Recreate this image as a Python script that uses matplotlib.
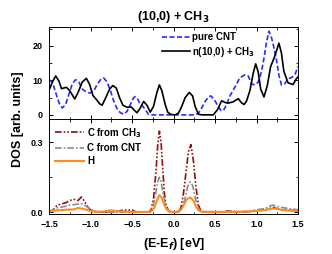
import matplotlib
matplotlib.use("Agg")
import matplotlib.pyplot as plt
from matplotlib.ticker import MultipleLocator

plt.rcParams['font.family'] = ['Liberation Sans', 'DejaVu Sans']
plt.rcParams['font.weight'] = 'bold'

# Top panel: total DOS, pure CNT vs. functionalised tube
e_pure = [-1.50, -1.46, -1.42, -1.38, -1.34, -1.30, -1.26, -1.22, -1.18, -1.14,
          -1.10, -1.06, -1.01, -0.96, -0.92, -0.88, -0.84, -0.80, -0.76, -0.72,
          -0.68, -0.64, -0.60, -0.56, -0.52, -0.48, -0.46, -0.43, -0.40, -0.37,
          -0.34, -0.30, -0.26, 0.26, 0.30, 0.34, 0.38, 0.42, 0.45, 0.49,
          0.53, 0.57, 0.60, 0.64, 0.68, 0.72, 0.76, 0.80, 0.86, 0.90,
          0.94, 0.98, 1.02, 1.06, 1.09, 1.12, 1.15, 1.18, 1.21, 1.24,
          1.27, 1.30, 1.34, 1.38, 1.42, 1.46, 1.50]
dos_pure = [10.2, 9.5, 6.5, 3.5, 2.0, 3.0, 6.0, 9.0, 10.2, 9.5,
            7.5, 6.8, 6.3, 7.0, 8.8, 10.2, 10.7, 9.5, 7.0, 4.0,
            1.8, 0.6, 0.2, 1.0, 3.0, 5.0, 5.3, 4.5, 3.0, 2.5,
            1.5, 0.1, 0.0, 0.0, 0.5, 2.0, 3.8, 5.2, 5.5, 4.5,
            2.8, 1.3, 1.2, 3.0, 5.5, 7.2, 9.0, 10.8, 11.6, 11.3,
            9.0, 8.7, 9.5, 12.5, 16.5, 21.0, 24.3, 22.5, 19.5, 16.0,
            11.5, 8.7, 9.0, 10.5, 10.8, 11.5, 14.0]

e_func = [-1.50, -1.46, -1.42, -1.38, -1.35, -1.32, -1.29, -1.25, -1.19, -1.15,
          -1.10, -1.05, -1.01, -0.97, -0.92, -0.89, -0.86, -0.82, -0.77, -0.73,
          -0.69, -0.65, -0.61, -0.56, -0.51, -0.47, -0.44, -0.40, -0.36, -0.32,
          -0.28, -0.24, -0.20, -0.17, -0.14, -0.10, -0.07, -0.03, 0.02, 0.06,
          0.10, 0.14, 0.19, 0.23, 0.26, 0.30, 0.34, 0.48, 0.53, 0.58,
          0.62, 0.66, 0.72, 0.78, 0.82, 0.85, 0.88, 0.92, 0.96, 0.99,
          1.02, 1.05, 1.09, 1.13, 1.17, 1.22, 1.27, 1.30, 1.33, 1.38,
          1.44, 1.48, 1.50]
dos_func = [7.1, 9.5, 11.3, 9.8, 7.6, 7.8, 8.0, 7.0, 4.6, 6.5,
            9.5, 10.6, 8.8, 5.6, 4.2, 3.2, 2.8, 4.8, 7.5, 8.5,
            7.8, 5.0, 2.8, 2.2, 2.3, 1.3, 0.6, 2.0, 3.9, 2.8,
            0.8, 2.5, 6.5, 8.7, 7.0, 3.0, 0.8, 0.1, 0.0, 0.5,
            2.5, 5.0, 6.5, 5.5, 2.5, 0.2, 0.0, 0.0, 1.5, 4.1,
            3.6, 3.4, 3.8, 4.7, 3.5, 3.0, 4.0, 7.0, 12.0, 14.8,
            12.5, 7.5, 5.2, 8.5, 14.0, 17.0, 20.8, 18.0, 12.6, 9.3,
            8.8, 10.5, 11.0]

# Bottom panel: projected DOS
e_ch3 = [-1.50, -1.45, -1.40, -1.35, -1.30, -1.25, -1.20, -1.15, -1.11, -1.07,
         -1.03, -1.00, -0.95, -0.90, -0.70, -0.65, -0.60, -0.55, -0.50, -0.45,
         -0.30, -0.27, -0.24, -0.21, -0.19, -0.17, -0.15, -0.13, -0.11, -0.09,
         -0.06, -0.03, 0.06, 0.09, 0.12, 0.15, 0.18, 0.21, 0.24, 0.27,
         0.30, 0.33, 0.36, 0.60, 0.65, 0.70, 0.80, 0.95, 1.05, 1.10,
         1.15, 1.20, 1.25, 1.30, 1.40, 1.50]
pdos_ch3 = [0.0, 0.01, 0.03, 0.035, 0.04, 0.05, 0.055, 0.05, 0.065, 0.045,
            0.02, 0.01, 0.002, 0.0, 0.0, 0.005, 0.01, 0.008, 0.01, 0.0,
            0.0, 0.01, 0.06, 0.18, 0.29, 0.348, 0.30, 0.19, 0.08, 0.03,
            0.005, 0.0, 0.0, 0.02, 0.08, 0.17, 0.26, 0.29, 0.22, 0.11,
            0.03, 0.005, 0.0, 0.0, 0.005, 0.003, 0.0, 0.005, 0.01, 0.01,
            0.015, 0.02, 0.015, 0.01, 0.008, 0.005]

e_cnt = [-1.50, -1.45, -1.40, -1.30, -1.25, -1.20, -1.15, -1.10, -1.05, -1.00,
         -0.95, -0.90, -0.28, -0.25, -0.22, -0.19, -0.17, -0.15, -0.12, -0.09,
         -0.05, 0.00, 0.06, 0.10, 0.14, 0.17, 0.20, 0.23, 0.27, 0.31,
         0.35, 0.90, 1.00, 1.10, 1.15, 1.20, 1.25, 1.30, 1.40, 1.50]
pdos_cnt = [0.0, 0.01, 0.018, 0.025, 0.03, 0.032, 0.035, 0.035, 0.025, 0.012,
            0.005, 0.0, 0.0, 0.02, 0.07, 0.13, 0.15, 0.13, 0.07, 0.02,
            0.003, 0.0, 0.0, 0.015, 0.06, 0.11, 0.13, 0.115, 0.05, 0.01,
            0.0, 0.0, 0.01, 0.015, 0.025, 0.03, 0.025, 0.02, 0.015, 0.01]

e_h = [-1.50, -1.40, -1.30, -1.20, -1.15, -1.10, -1.05, -1.00, -0.95, -0.85,
       -0.80, -0.75, -0.70, -0.60, -0.45, -0.30, -0.26, -0.23, -0.20, -0.17,
       -0.14, -0.11, -0.08, -0.04, 0.03, 0.07, 0.10, 0.13, 0.16, 0.20,
       0.24, 0.27, 0.30, 0.34, 0.60, 0.90, 1.00, 1.10, 1.15, 1.20,
       1.25, 1.30, 1.40, 1.50]
pdos_h = [0.003, 0.008, 0.01, 0.012, 0.018, 0.015, 0.01, 0.005, 0.002, 0.002,
          0.005, 0.008, 0.005, 0.002, 0.001, 0.001, 0.005, 0.02, 0.05, 0.073,
          0.06, 0.03, 0.01, 0.002, 0.001, 0.005, 0.015, 0.035, 0.055, 0.063,
          0.05, 0.025, 0.008, 0.002, 0.001, 0.003, 0.005, 0.008, 0.013, 0.015,
          0.014, 0.01, 0.006, 0.005]

fig = plt.figure(figsize=(3.32, 2.54), dpi=100)
ax1 = fig.add_axes([0.1476, 0.5315, 0.75, 0.3622])
ax2 = fig.add_axes([0.1476, 0.1575, 0.75, 0.374])

ax1.plot(e_pure, dos_pure, color='#2a2aff', lw=1.2, ls=(0, (3, 1.5)), label='pure CNT')
ax1.plot(e_func, dos_func, color='black', lw=1.2, label='n(10,0) + CH$_3$')
ax1.set_xlim(-1.5, 1.5)
ax1.set_ylim(-1.2, 25.5)
ax1.yaxis.set_major_locator(MultipleLocator(10))
ax1.yaxis.set_minor_locator(MultipleLocator(5))
ax1.legend(loc='upper left', bbox_to_anchor=(0.42, 1.04), frameon=False,
           fontsize=7, handlelength=2.8, handletextpad=0.3, labelspacing=0.25)
ax1.set_title('(10,0) + CH$_3$', fontsize=9, fontweight='bold', pad=5)

ax2.plot(e_ch3, pdos_ch3, color='#8b1010', lw=1.2, ls=(0, (4, 1.2, 1, 1.2, 1, 1.2)),
         label='C from CH$_3$')
ax2.plot(e_cnt, pdos_cnt, color='#8c8c8c', lw=1.2, ls=(0, (4, 1.2, 1, 1.2)),
         label='C from CNT')
ax2.plot(e_h, pdos_h, color='#ff8c1a', lw=1.5, label='H')
ax2.set_xlim(-1.5, 1.5)
ax2.set_ylim(-0.008, 0.4)
ax2.yaxis.set_major_locator(MultipleLocator(0.3))
ax2.yaxis.set_minor_locator(MultipleLocator(0.15))
ax2.yaxis.set_major_formatter(matplotlib.ticker.FormatStrFormatter('%.1f'))
ax2.legend(loc='upper left', bbox_to_anchor=(-0.01, 1.02), frameon=False,
           fontsize=7, handlelength=3.0, handletextpad=0.3, labelspacing=0.35)
ax2.set_xlabel('(E-E$_f$) [eV]', fontsize=9, fontweight='bold', labelpad=5)

for ax in (ax1, ax2):
    ax.xaxis.set_major_locator(MultipleLocator(0.5))
    ax.xaxis.set_minor_locator(MultipleLocator(0.25))
    ax.tick_params(which='both', direction='in', top=True, right=True, labelsize=6.5)
    ax.tick_params(which='major', length=3, width=0.7, pad=4.5)
    ax.tick_params(which='minor', length=1.8, width=0.6)
    for s in ax.spines.values():
        s.set_linewidth(0.7)
    for lab in ax.get_xticklabels() + ax.get_yticklabels():
        lab.set_fontweight('bold')

ax1.tick_params(labelbottom=False)

fig.text(0.055, 0.53, 'DOS [arb. units]', rotation=90, fontsize=9,
         fontweight='bold', ha='center', va='center')

fig.savefig('out.png', dpi=100)
